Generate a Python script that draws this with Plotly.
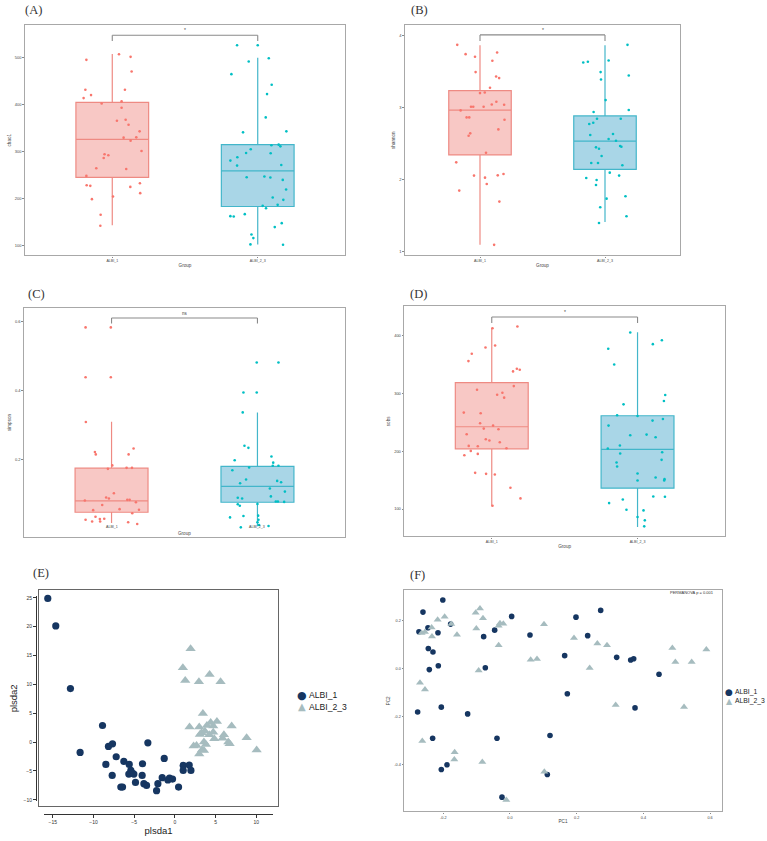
import plotly.graph_objects as go

W, H = 767, 841
groups = ["ALBI_1", "ALBI_2_3"]

# ---------------- Panel A: chao1 ----------------
a_box1 = dict(lower=143, q1=245, median=326, q3=405, upper=508)
a_box2 = dict(lower=102, q1=183, median=259, q3=315, upper=500)
a_g1_val = [495.7, 507.8, 502.1, 470.9, 431.9, 420.6, 414.2, 431.9, 402.8, 407.1, 393.6, 366.0, 368.1, 357.4, 343.3,
            330.5, 329.8, 323.4, 294.3, 292.2, 286.5, 264.5, 263.1, 301.4, 248.2, 228.4, 227.0, 224.8, 232.6, 211.4,
            198.6, 204.3, 165.3, 141.9]
a_g1_jit = [-0.178, 0.046, 0.126, 0.133, -0.185, -0.146, -0.197, 0.087, -0.073, 0.064, 0.064, 0.032, 0.092, 0.112,
            0.188, 0.165, 0.078, 0.126, -0.053, -0.027, -0.059, -0.110, 0.096, 0.201, -0.178, -0.176, -0.151, 0.124,
            0.190, 0.192, -0.140, 0.005, -0.080, -0.082]
a_g2_val = [527.0, 527.0, 492.2, 499.3, 465.2, 442.6, 422.7, 373.0, 341.1, 343.3, 313.5, 314.9, 311.3, 296.5, 305.0,
            297.2, 287.9, 270.2, 280.9, 271.6, 245.4, 246.8, 244.7, 239.7, 202.1, 219.2, 197.2, 186.5, 184.4, 179.4,
            162.4, 161.7, 166.7, 147.5, 139.0, 123.4, 115.6, 102.1, 101.4]
a_g2_jit = [-0.142, 0.0, -0.062, 0.076, -0.181, 0.096, 0.064, 0.055, -0.101, 0.197, 0.094, 0.144, 0.156, 0.089,
            -0.048, -0.080, -0.140, -0.142, -0.188, 0.162, -0.076, 0.046, 0.087, 0.172, 0.103, 0.195, 0.176, 0.137,
            0.034, 0.057, -0.188, -0.165, -0.089, 0.165, 0.117, -0.043, -0.030, -0.050, 0.174]
a_ticks = [100, 200, 300, 400, 500]

# ---------------- Panel B: shannon ----------------
b_box1 = dict(lower=1.095, q1=2.34, median=2.96, q3=3.23, upper=3.86)
b_box2 = dict(lower=1.41, q1=2.14, median=2.53, q3=2.88, upper=3.86)
b_g1_val = [3.866, 3.737, 3.700, 3.488, 3.760, 3.645, 3.428, 3.405, 3.271, 3.206, 3.197, 3.008, 3.008, 3.008, 3.040,
            3.077, 3.036, 2.957, 2.860, 2.860, 2.828, 2.694, 2.639, 2.606, 2.371, 2.237, 2.053, 2.025, 2.057, 2.076,
            1.937, 1.845, 1.693, 1.093]
b_g1_jit = [-0.182, -0.115, -0.040, -0.035, 0.137, 0.099, 0.129, 0.153, 0.080, 0.038, 0.0, -0.072, -0.054, 0.029,
            0.094, 0.131, 0.193, -0.155, -0.107, -0.086, 0.196, 0.147, -0.078, -0.091, 0.048, -0.190, -0.048, 0.040,
            0.142, 0.188, 0.054, -0.166, 0.155, 0.113]
b_g2_val = [3.866, 3.622, 3.631, 3.649, 3.488, 3.386, 3.442, 3.100, 2.962, 2.934, 2.842, 2.842, 2.768, 2.786, 2.616,
            2.629, 2.560, 2.537, 2.463, 2.454, 2.445, 2.426, 2.325, 2.228, 2.228, 2.196, 2.094, 2.053, 2.020, 1.993,
            1.923, 1.767, 1.734, 1.614, 1.490, 1.397]
b_g2_jit = [0.180, -0.174, -0.137, 0.029, -0.035, -0.032, 0.190, 0.005, 0.190, -0.091, -0.064, 0.126, -0.126, -0.094,
            -0.118, 0.064, 0.029, 0.088, 0.121, 0.131, -0.072, -0.048, -0.027, -0.110, -0.056, 0.139, 0.038, 0.113,
            -0.150, -0.067, -0.072, 0.164, 0.013, -0.038, 0.172, -0.048]
b_ticks = [1, 2, 3, 4]

# ---------------- Panel C: simpson ----------------
c_box1 = dict(lower=0.0145, q1=0.046, median=0.079, q3=0.174, upper=0.309)
c_box2 = dict(lower=0.005, q1=0.075, median=0.121, q3=0.179, upper=0.336)
c_g1_val = [0.583, 0.583, 0.438, 0.438, 0.308, 0.221, 0.214, 0.214, 0.231, 0.182, 0.172, 0.175, 0.175, 0.101, 0.089,
            0.086, 0.080, 0.082, 0.082, 0.075, 0.067, 0.052, 0.053, 0.055, 0.043, 0.024, 0.033, 0.026, 0.027, 0.019,
            0.019, 0.017, 0.012]
c_g1_jit = [-0.178, -0.005, -0.178, -0.005, -0.176, -0.114, -0.108, 0.117, 0.151, 0.005, -0.025, 0.103, 0.140, 0.016,
            -0.037, -0.018, -0.183, 0.108, 0.124, 0.167, -0.064, -0.126, 0.188, 0.055, 0.142, -0.178, -0.110, -0.080,
            -0.050, -0.133, -0.078, 0.114, 0.176]
c_g2_val = [0.481, 0.481, 0.394, 0.394, 0.336, 0.239, 0.233, 0.208, 0.197, 0.190, 0.168, 0.176, 0.181, 0.181, 0.141,
            0.137, 0.133, 0.130, 0.115, 0.106, 0.088, 0.086, 0.092, 0.077, 0.077, 0.076, 0.069, 0.065, 0.070, 0.035,
            0.031, 0.036, 0.024, 0.017, 0.002, 0.006, 0.009]
c_g2_jit = [-0.005, 0.144, -0.096, -0.005, -0.101, -0.089, -0.062, 0.096, -0.156, 0.108, -0.172, -0.057, 0.105, 0.144,
            -0.078, 0.135, 0.162, -0.119, 0.085, 0.188, -0.135, -0.105, 0.092, 0.126, 0.140, 0.183, -0.135, -0.121,
            0.0, -0.096, -0.188, 0.005, 0.007, 0.0, -0.114, 0.076, 0.011]
c_ticks = [0.2, 0.4, 0.6]

# ---------------- Panel D: sobs ----------------
d_box1 = dict(lower=105, q1=204, median=242, q3=318, upper=413)
d_box2 = dict(lower=69, q1=136, median=203, q3=261, upper=405)
d_g1_val = [412.0, 414.9, 378.8, 382.2, 367.9, 355.3, 342.1, 340.3, 337.5, 312.2, 305.9, 300.8, 297.3, 292.2, 266.4,
            265.2, 248.0, 244.0, 238.8, 237.7, 229.1, 220.5, 218.2, 215.3, 209.0, 208.4, 205.0, 200.4, 192.9, 195.2,
            162.5, 160.8, 159.7, 136.7, 118.4, 105.7]
d_g1_jit = [0.005, 0.176, -0.043, 0.023, -0.137, -0.160, 0.172, 0.192, 0.146, 0.151, -0.101, 0.073, 0.037, 0.085,
            -0.192, -0.076, -0.080, 0.009, -0.055, 0.046, -0.172, -0.041, -0.016, 0.055, -0.158, -0.096, 0.101, -0.144,
            -0.188, -0.096, -0.114, -0.039, 0.021, 0.128, 0.197, 0.005]
d_g2_val = [404.6, 384.5, 391.4, 376.5, 349.5, 280.7, 296.7, 286.4, 261.8, 260.6, 244.0, 252.6, 255.5, 227.3, 228.5,
            223.9, 204.4, 209.6, 195.8, 180.3, 173.4, 198.1, 184.9, 161.4, 149.3, 154.5, 151.6, 149.3, 110.3, 116.6,
            121.8, 121.2, 98.9, 97.7, 86.2, 80.5, 70.2]
d_g2_jit = [-0.050, 0.105, 0.167, -0.201, -0.160, -0.096, 0.190, 0.181, -0.140, 0.0, -0.199, 0.103, 0.174, -0.050,
            0.062, 0.124, -0.204, -0.121, -0.119, -0.144, -0.140, 0.169, 0.165, 0.0, 0.0, 0.124, 0.185, 0.183, -0.195,
            -0.101, 0.108, 0.188, -0.076, 0.041, 0.0, 0.050, 0.046]
d_ticks = [100, 200, 300, 400]

# ---------------- Panel E: PLS-DA ----------------
e1_x = [-15.61, -14.63, -12.83, -11.64, -8.89, -8.16, -7.66, -8.48, -7.21, -7.70, -6.27, -5.61, -5.41, -5.66, -5.20,
        -5.04, -4.84, -6.64, -6.43, -3.98, -4.02, -3.81, -3.48, -3.32, -1.31, -1.56, -2.09, -2.25, -0.86, -0.66,
        -0.29, 0.45, 1.02, 1.02, 1.76, 1.97]
e1_y = [24.91, 20.13, 9.28, -1.79, 2.88, -0.75, -0.29, -3.86, -2.54, -5.77, -3.34, -3.86, -4.90, -5.54, -5.42,
        -5.54, -6.98, -7.79, -7.79, -3.75, -5.77, -7.21, -7.50, -0.12, -2.83, -6.17, -7.21, -8.42, -6.57, -6.23,
        -6.40, -7.79, -4.04, -4.90, -3.98, -4.90]
e2_x = [1.93, 0.98, 1.27, 2.95, 4.26, 5.61, 3.44, 1.80, 2.99, 3.93, 4.39, 5.16, 6.97, 8.81, 10.04, 3.28, 3.69, 4.71,
        4.22, 6.02, 5.86, 4.84, 3.57, 6.56, 6.72, 2.30, 2.66, 3.81, 3.32, 2.99, 3.57, 4.71, 3.07]
e2_y = [16.2, 12.9, 10.67, 10.44, 11.7, 10.44, 4.96, 2.60, 2.60, 2.88, 3.40, 3.58, 2.77, 0.75, -1.38, 1.61, 1.90,
        1.73, 1.27, 1.27, 0.69, 0.58, 0.0, 0.0, -0.29, -0.69, -0.58, -0.40, -1.38, -2.08, -1.44, 2.77, 1.33]
e_xticks = [-15, -10, -5, 0, 5, 10]
e_yticks = [-10, -5, 0, 5, 10, 15, 20, 25]

# ---------------- Panel F: PCoA ----------------
f1_x = [-0.2015, -0.261, -0.273, -0.246, -0.216, -0.178, -0.245, -0.231, -0.242, -0.215, -0.277, -0.206, -0.232,
        -0.206, -0.189, -0.127, -0.079, -0.074, -0.046, -0.039, 0.005, 0.060, -0.024, 0.120, 0.112, 0.164, 0.172,
        0.198, 0.233, 0.272, 0.320, 0.362, 0.371, 0.447, 0.375]
f1_y = [0.285, 0.235, 0.153, 0.170, 0.149, 0.185, 0.084, 0.069, -0.004, 0.012, -0.180, -0.160, -0.289, -0.419,
        -0.399, -0.188, 0.133, 0.004, 0.160, -0.289, 0.217, 0.140, -0.534, -0.278, -0.440, 0.054, -0.104, 0.214,
        0.137, 0.242, 0.047, 0.036, 0.041, -0.023, -0.163]
f2_x = [-0.265, -0.255, -0.235, -0.234, -0.217, -0.196, -0.176, -0.159, -0.270, -0.255, -0.263, -0.166, -0.167,
        -0.103, -0.090, -0.101, -0.081, -0.094, -0.083, -0.034, -0.020, -0.034, 0.062, 0.081, 0.102, 0.103, -0.011,
        0.192, 0.239, 0.262, 0.291, 0.317, 0.487, 0.496, 0.522, 0.545, 0.589, -0.030]
f2_y = [0.148, 0.152, 0.171, 0.134, 0.203, 0.216, 0.185, 0.141, -0.059, -0.087, -0.301, -0.347, -0.377, 0.232, 0.250,
        0.167, 0.209, -0.008, -0.388, 0.178, 0.187, 0.097, 0.037, 0.040, 0.184, -0.428, -0.546, 0.127, 0.003, 0.104,
        0.097, -0.151, 0.086, 0.028, -0.159, 0.028, 0.080, 0.189]
f_xticks = [-0.2, 0.0, 0.2, 0.4, 0.6]
f_yticks = [-0.4, -0.2, 0.0, 0.2]

# ---------------- styling ----------------
RED_PT, CYAN_PT = "#F8766D", "#00BFC4"
RED_FILL, RED_LINE = "#F8C8C5", "#EE8A83"
CYAN_FILL, CYAN_LINE = "#A9D6E7", "#43B6CA"
NAVY, GRAYG = "#163661", "#A6BCBF"


def xd(l, r):
    return [l / W, r / W]


def yd(t, b):
    return [1 - b / H, 1 - t / H]


def py(p):
    return 1 - p / H


fig = go.Figure()

box_panels = [
    ("", xd(25, 345), yd(24, 255), [78.7, 570.2], a_box1, a_box2, a_g1_val, a_g1_jit, a_g2_val, a_g2_jit,
     a_ticks, "chao1", "*", (548.3, 536.2, 559.6)),
    ("2", xd(405, 680), yd(24, 255), [0.947, 4.142], b_box1, b_box2, b_g1_val, b_g1_jit, b_g2_val, b_g2_jit,
     b_ticks, "shannon", "*", (4.004, 3.92, 4.074)),
    ("3", xd(24, 345), yd(307.3, 537.7), [-0.0272, 0.6406], c_box1, c_box2, c_g1_val, c_g1_jit, c_g2_val, c_g2_jit,
     c_ticks, "simpson", "ns", (0.6104, 0.594, 0.624)),
    ("4", xd(404.3, 725), yd(306, 536.7), [52.8, 449.9], d_box1, d_box2, d_g1_val, d_g1_jit, d_g2_val, d_g2_jit,
     d_ticks, "sobs", "*", (431.5, 421.2, 440.5)),
]

shapes = []
annotations = []

for (sfx, xdom, ydom, yr, bx1, bx2, v1, j1, v2, j2, ticks, ytitle, sig, br) in box_panels:
    xa, ya = "x" + sfx, "y" + sfx
    for pos, bx, fill, line in [(1, bx1, RED_FILL, RED_LINE), (2, bx2, CYAN_FILL, CYAN_LINE)]:
        fig.add_trace(go.Box(
            x=[pos], q1=[bx["q1"]], median=[bx["median"]], q3=[bx["q3"]],
            lowerfence=[bx["lower"]], upperfence=[bx["upper"]],
            width=0.5, whiskerwidth=0, boxpoints=False,
            fillcolor=fill, line=dict(color=line, width=1.2),
            xaxis=xa, yaxis=ya, showlegend=False, hoverinfo="skip"))
    fig.add_trace(go.Scatter(x=[1 + j for j in j1], y=v1, mode="markers",
                             marker=dict(color=RED_PT, size=2.6), xaxis=xa, yaxis=ya,
                             showlegend=False, hoverinfo="skip"))
    fig.add_trace(go.Scatter(x=[2 + j for j in j2], y=v2, mode="markers",
                             marker=dict(color=CYAN_PT, size=2.6), xaxis=xa, yaxis=ya,
                             showlegend=False, hoverinfo="skip"))
    axkey = "xaxis" + sfx
    aykey = "yaxis" + sfx
    is_c = sfx == "3"
    fig.update_layout(**{
        axkey: dict(domain=xdom, range=[0.4, 2.6], anchor=ya, showgrid=False, zeroline=False,
                    showline=True, mirror=True, linecolor="#a8a8a8", linewidth=1.3,
                    tickvals=[1, 2], ticktext=groups, showticklabels=not is_c,
                    ticks="" if is_c else "outside", ticklen=1.5, tickcolor="#888",
                    tickfont=dict(size=3.6, color="#444", family="Liberation Sans"),
                    title=dict(text="" if is_c else "Group", font=dict(size=4.6, color="#444", family="Liberation Sans"),
                               standoff=1)),
        aykey: dict(domain=ydom, range=yr, anchor=xa, showgrid=False, zeroline=False,
                    showline=True, mirror=True, linecolor="#a8a8a8", linewidth=1.3,
                    tickvals=ticks, ticks="outside", ticklen=1.5, tickcolor="#888",
                    tickfont=dict(size=4, color="#444", family="Liberation Sans"),
                    title=dict(text=ytitle, font=dict(size=4.6, color="#444", family="Liberation Sans"),
                               standoff=3)),
    })
    yb, ye, yt = br
    for (x0, y0, x1, y1) in [(1, yb, 2, yb), (1, yb, 1, ye), (2, yb, 2, ye)]:
        shapes.append(dict(type="line", xref=xa, yref=ya, x0=x0, y0=y0, x1=x1, y1=y1,
                           line=dict(color="#8a8a8a", width=1.1)))
    annotations.append(dict(xref=xa, yref=ya, x=1.5, y=yt, text=sig, showarrow=False,
                            font=dict(size=4.5 if sig == "ns" else 5, color="#444", family="Liberation Sans")))
    if is_c:
        for i, g in enumerate(groups):
            annotations.append(dict(xref=xa, yref="paper", x=i + 1, y=py(527.7), text=g, showarrow=False,
                                    font=dict(size=3.6, color="#444", family="Liberation Sans")))
        annotations.append(dict(xref=xa, yref="paper", x=1.5, y=py(533.3), text="Group", showarrow=False,
                                font=dict(size=4.6, color="#444", family="Liberation Sans")))

# ---------------- Panel E ----------------
fig.add_trace(go.Scatter(x=e1_x, y=e1_y, mode="markers", marker=dict(color=NAVY, size=7.2, symbol="circle"),
                         xaxis="x5", yaxis="y5", showlegend=False, hoverinfo="skip"))
fig.add_trace(go.Scatter(x=e2_x, y=e2_y, mode="markers", marker=dict(color=GRAYG, size=9, symbol="triangle-up"),
                         xaxis="x5", yaxis="y5", showlegend=False, hoverinfo="skip"))
fig.add_trace(go.Scatter(x=[None], y=[None], xaxis="x7", yaxis="y7", showlegend=False, hoverinfo="skip"))

fig.update_layout(
    xaxis5=dict(domain=xd(39, 278.3), range=[-16.69, 12.70], anchor="y5", showgrid=False, zeroline=False,
                showline=True, mirror=True, linecolor="#666", linewidth=1, showticklabels=False, ticks=""),
    yaxis5=dict(domain=yd(590.7, 807.3), range=[-11.14, 26.31], anchor="x5", showgrid=False, zeroline=False,
                showline=True, mirror=True, linecolor="#666", linewidth=1, showticklabels=False, ticks=""),
    xaxis7=dict(domain=xd(44.3, 272.7), range=[-16.04, 12.01], anchor="free", position=py(815),
                showgrid=False, zeroline=False, showline=True, linecolor="#333", linewidth=1,
                tickvals=e_xticks, ticks="outside", ticklen=3, tickcolor="#333",
                tickfont=dict(size=5, color="#333", family="Liberation Sans"),
                title=dict(text="plsda1", font=dict(size=9.5, color="#222", family="Liberation Sans"), standoff=3)),
    yaxis7=dict(domain=yd(596, 802), range=[-10.22, 25.40], anchor="free", position=36 / W,
                showgrid=False, zeroline=False, showline=True, linecolor="#333", linewidth=1,
                tickvals=e_yticks, ticks="outside", ticklen=3, tickcolor="#333",
                tickfont=dict(size=5, color="#333", family="Liberation Sans"),
                title=dict(text="plsda2", font=dict(size=9.5, color="#222", family="Liberation Sans"), standoff=3)),
)

# ---------------- Panel F ----------------
fig.add_trace(go.Scatter(x=f1_x, y=f1_y, mode="markers", marker=dict(color=NAVY, size=5.6, symbol="circle"),
                         xaxis="x6", yaxis="y6", showlegend=False, hoverinfo="skip"))
fig.add_trace(go.Scatter(x=f2_x, y=f2_y, mode="markers", marker=dict(color=GRAYG, size=7, symbol="triangle-up"),
                         xaxis="x6", yaxis="y6", showlegend=False, hoverinfo="skip"))
fig.update_layout(
    xaxis6=dict(domain=xd(404.3, 721.7), range=[-0.317, 0.635], anchor="y6", showgrid=False, zeroline=False,
                showline=True, mirror=True, linecolor="#a8a8a8", linewidth=1.3,
                tickvals=f_xticks, ticktext=["-0.2", "0.0", "0.2", "0.4", "0.6"], ticks="outside", ticklen=1.5,
                tickcolor="#888", tickfont=dict(size=3.8, color="#444", family="Liberation Sans"),
                title=dict(text="PC1", font=dict(size=4.6, color="#444", family="Liberation Sans"), standoff=1)),
    yaxis6=dict(domain=yd(590.7, 812.3), range=[-0.593, 0.3255], anchor="x6", showgrid=False, zeroline=False,
                showline=True, mirror=True, linecolor="#a8a8a8", linewidth=1.3,
                tickvals=f_yticks, ticktext=["-0.4", "-0.2", "0.0", "0.2"], ticks="outside", ticklen=1.5,
                tickcolor="#888", tickfont=dict(size=3.8, color="#444", family="Liberation Sans"),
                title=dict(text="PC2", font=dict(size=4.6, color="#444", family="Liberation Sans"), standoff=3)),
)
annotations.append(dict(xref="paper", yref="paper", x=716 / W, y=py(593), xanchor="right", yanchor="middle",
                        text="PERMANOVA p = 0.001", showarrow=False,
                        font=dict(size=4, color="#333", family="Liberation Sans")))


# ---------------- legends (manual) ----------------
def legend(xm, xt, rows, csize, tsize, fsize):
    (y1, y2) = rows
    annotations.append(dict(xref="paper", yref="paper", x=xm / W, y=py(y1), text="●", showarrow=False,
                            xanchor="center", yanchor="middle",
                            font=dict(size=csize, color=NAVY, family="DejaVu Sans")))
    annotations.append(dict(xref="paper", yref="paper", x=xm / W, y=py(y2), text="▲", showarrow=False,
                            xanchor="center", yanchor="middle",
                            font=dict(size=tsize, color=GRAYG, family="DejaVu Sans")))
    annotations.append(dict(xref="paper", yref="paper", x=xt / W, y=py(y1), text=groups[0], showarrow=False,
                            xanchor="left", yanchor="middle",
                            font=dict(size=fsize, color="#222", family="Liberation Sans")))
    annotations.append(dict(xref="paper", yref="paper", x=xt / W, y=py(y2), text=groups[1], showarrow=False,
                            xanchor="left", yanchor="middle",
                            font=dict(size=fsize, color="#222", family="Liberation Sans")))


legend(302, 307, (696, 707.3), 11, 10, 8.6)
legend(729, 733, (692.7, 701.7), 9, 8, 6.8)

# ---------------- panel letters ----------------
for lab, x, y in [("(A)", 33.5, 9), ("(B)", 419, 9), ("(C)", 36.7, 293.3), ("(D)", 418.7, 293.3),
                  ("(E)", 41, 573), ("(F)", 417, 575)]:
    annotations.append(dict(xref="paper", yref="paper", x=x / W, y=py(y), text=lab, showarrow=False,
                            xanchor="center", yanchor="middle",
                            font=dict(size=12.5, color="#333", family="Liberation Serif")))

fig.update_layout(width=W, height=H, margin=dict(l=0, r=0, t=0, b=0), paper_bgcolor="white",
                  plot_bgcolor="rgba(0,0,0,0)", shapes=shapes, annotations=annotations, showlegend=False)

fig.write_html("out.html", config={"displayModeBar": False},
               post_script="document.body.style.margin='0';document.body.style.padding='0';"
                           "document.body.style.overflow='hidden';")
